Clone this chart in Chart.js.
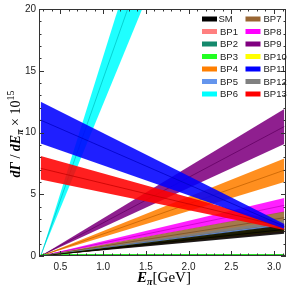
<!DOCTYPE html>
<html>
<head>
<meta charset="utf-8">
<script src="https://cdn.jsdelivr.net/npm/chart.js@4.4.1/dist/chart.umd.min.js"></script>
<style>
  html, body { margin: 0; padding: 0; background: #fff; }
  #wrap { width: 291px; height: 296px; }
</style>
</head>
<body>
<div id="wrap"><canvas id="chart"></canvas></div>
<script>
// Energy endpoints of each (straight) band, GeV
const energies = [0.27, 3.12];

// Series, in legend order
const names = ["SM", "BP1", "BP2", "BP3", "BP4", "BP5", "BP6", "BP7", "BP8", "BP9", "BP10", "BP11", "BP12", "BP13"];
const colors = ["#000000", "#ff7f7f", "#14896c", "#22ff22", "#ff7f00", "#6495ed", "#00ffff",
                "#996633", "#ff00ff", "#800080", "#ffff00", "#0000ff", "#808080", "#ff0000"];

// Band values at the first energy (lower, central, upper)
const startLo  = [0, 0, 0, 0.03, 0, 0, 0, 0, 0, 0, 0, 9.1,  0, 6.2];
const startMid = [0, 0, 0, 0.1,  0, 0, 0, 0, 0, 0, 0, 11.0, 0, 7.1];
const startHi  = [0, 0, 0, 0.17, 0, 0, 0, 0, 0, 0, 0, 12.5, 0, 8.1];

// Band values at the last energy (lower, central, upper)
const endLo  = [1.8,  1.9, 2.0,  0.03, 6.0,  2.35, 48, 2.66, 3.55, 9.06,  2.0,  2.2, 2.3, 2.1];
const endMid = [2.15, 2.1, 2.15, 0.1,  6.95, 2.5,  56, 3.1,  4.1,  10.48, 2.25, 2.4, 2.6, 2.35];
const endHi  = [2.5,  2.3, 2.3,  0.17, 7.9,  2.6,  63, 3.6,  4.7,  11.9,  2.45, 2.6, 2.9, 2.6];

// Drawing stack, top first
const stack = ["BP11", "BP13", "SM", "BP10", "BP5", "BP1", "BP2", "BP3", "BP12", "BP7", "BP8", "BP4", "BP9", "BP6"];

const xTicks = [0.5, 1.0, 1.5, 2.0, 2.5, 3.0];
const yTicks = [0, 5, 10, 15, 20];

function rgba(hex, a) {
    const n = parseInt(hex.slice(1), 16);
    return "rgba(" + (n >> 16) + "," + ((n >> 8) & 255) + "," + (n & 255) + "," + a + ")";
}
function darker(hex, f) {
    const n = parseInt(hex.slice(1), 16);
    return "rgb(" + Math.round((n >> 16) * f) + "," + Math.round(((n >> 8) & 255) * f) + "," + Math.round((n & 255) * f) + ")";
}
function pts(a, b) {
    return [{ x: energies[0], y: a }, { x: energies[1], y: b }];
}

// Build band datasets: upper edge filled down to lower edge, plus central line
const datasets = [];
names.forEach((name, i) => {
    const k = stack.indexOf(name);
    datasets.push({
        label: name + " hi",
        data: pts(startHi[i], endHi[i]),
        borderColor: "transparent",
        backgroundColor: rgba(colors[i], 0.88),
        fill: "+1",
        pointRadius: 0,
        order: k * 3 + 1
    });
    datasets.push({
        label: name + " lo",
        data: pts(startLo[i], endLo[i]),
        borderColor: "transparent",
        fill: false,
        pointRadius: 0,
        order: k * 3 + 2
    });
    datasets.push({
        label: name,
        data: pts(startMid[i], endMid[i]),
        borderColor: darker(colors[i], 0.78),
        borderWidth: 0.8,
        fill: false,
        pointRadius: 0,
        order: k * 3
    });
});

// Frame with inward major and minor ticks
const framePlugin = {
    id: "frame",
    afterDatasetsDraw(chart) {
        const { ctx, chartArea: a, scales } = chart;
        ctx.save();
        ctx.strokeStyle = "#333";
        ctx.lineWidth = 1;
        ctx.strokeRect(a.left + 0.5, a.top + 0.5, a.right - a.left - 1, a.bottom - a.top - 1);
        ctx.beginPath();
        for (let v = 3; v <= 31; v++) {
            const x = Math.round(scales.x.getPixelForValue(v / 10)) + 0.5;
            const len = v % 5 === 0 ? 5 : 2.5;
            ctx.moveTo(x, a.bottom); ctx.lineTo(x, a.bottom - len);
            ctx.moveTo(x, a.top); ctx.lineTo(x, a.top + len);
        }
        for (let v = 0; v <= 20; v++) {
            const y = Math.round(scales.y.getPixelForValue(v)) + 0.5;
            const len = v % 5 === 0 ? 5 : 2.5;
            ctx.moveTo(a.left, y); ctx.lineTo(a.left + len, y);
            ctx.moveTo(a.right, y); ctx.lineTo(a.right - len, y);
        }
        ctx.stroke();
        ctx.restore();
    }
};

// Two-column legend inside the top right corner
const legendPlugin = {
    id: "boxLegend",
    afterDraw(chart) {
        const ctx = chart.ctx;
        ctx.save();
        ctx.font = "9.5px 'Liberation Sans', Arial, sans-serif";
        ctx.textBaseline = "middle";
        ctx.textAlign = "left";
        names.forEach((name, i) => {
            const col = i < 7 ? 0 : 1;
            const row = i % 7;
            const bx = col === 0 ? 202 : 245.5;
            const y = 19 + row * 12.5;
            ctx.fillStyle = colors[i];
            ctx.fillRect(bx, y - 2.5, 15, 5);
            ctx.fillStyle = "#222";
            ctx.fillText(name, bx + (name === "SM" ? 16.5 : 18), y + 0.5);
        });
        ctx.restore();
    }
};

// Axis titles with sub/superscripts
function drawRuns(ctx, runs, x, y) {
    let w = 0;
    runs.forEach(r => { ctx.font = r.f; w += ctx.measureText(r.t).width; });
    let cx = x - w / 2;
    runs.forEach(r => {
        ctx.font = r.f;
        ctx.fillText(r.t, cx, y + (r.dy || 0));
        cx += ctx.measureText(r.t).width;
    });
}
const titlePlugin = {
    id: "axisTitles",
    afterDraw(chart) {
        const ctx = chart.ctx;
        const serif = "'Liberation Serif', 'Times New Roman', serif";
        ctx.save();
        ctx.fillStyle = "#000";
        ctx.textBaseline = "alphabetic";
        ctx.textAlign = "left";
        drawRuns(ctx, [
            { t: "E", f: "bold italic 15px " + serif },
            { t: "π", f: "bold italic 10px " + serif, dy: 3 },
            { t: "[GeV]", f: "15px " + serif }
        ], 164, 282);
        ctx.translate(20, 134);
        ctx.rotate(-Math.PI / 2);
        drawRuns(ctx, [
            { t: "dΓ", f: "bold italic 14px " + serif },
            { t: " / ", f: "14px " + serif },
            { t: "dE", f: "bold italic 14px " + serif },
            { t: "π", f: "bold italic 10px " + serif, dy: 3 },
            { t: " × 10", f: "14px " + serif },
            { t: "15", f: "10px " + serif, dy: -6 }
        ], 0, 0);
        ctx.restore();
    }
};

new Chart(document.getElementById("chart"), {
    type: "line",
    data: { datasets: datasets },
    options: {
        responsive: true,
        maintainAspectRatio: false,
        animation: false,
        devicePixelRatio: 1,
        layout: { padding: { top: 6, right: 5, left: 0, bottom: 0 } },
        plugins: { legend: { display: false }, tooltip: { enabled: false } },
        scales: {
            x: {
                type: "linear",
                min: 0.25,
                max: 3.14,
                grid: { display: false, drawTicks: false },
                border: { display: false },
                afterBuildTicks: s => { s.ticks = xTicks.map(v => ({ value: v })); },
                afterFit: s => { s.height = 40; },
                ticks: {
                    padding: 5,
                    maxRotation: 0,
                    color: "#222",
                    font: { family: "'Liberation Sans', Arial, sans-serif", size: 10 },
                    callback: v => v.toFixed(1)
                }
            },
            y: {
                type: "linear",
                min: 0,
                max: 20,
                grid: { display: false, drawTicks: false },
                border: { display: false },
                afterBuildTicks: s => { s.ticks = yTicks.map(v => ({ value: v })); },
                afterFit: s => { s.width = 39; },
                ticks: {
                    padding: 3,
                    color: "#222",
                    font: { family: "'Liberation Sans', Arial, sans-serif", size: 10 },
                    callback: v => String(v)
                }
            }
        }
    },
    plugins: [framePlugin, legendPlugin, titlePlugin]
});
</script>
</body>
</html>
